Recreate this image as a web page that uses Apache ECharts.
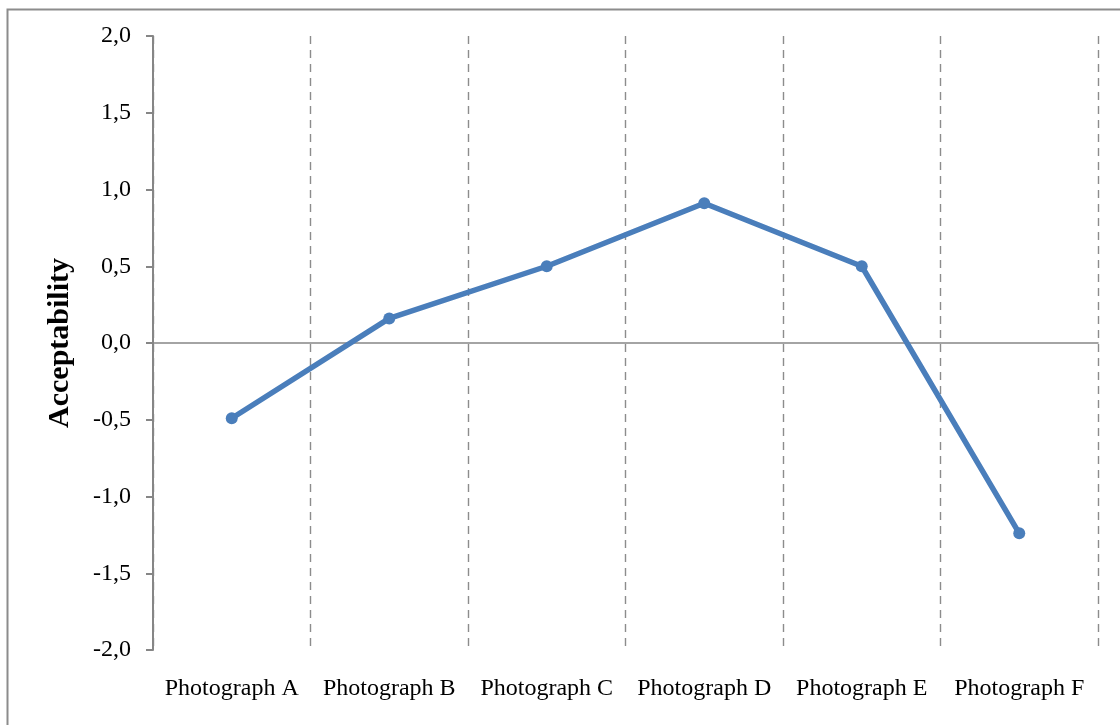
<!DOCTYPE html>
<html><head><meta charset="utf-8">
<script src="https://cdn.jsdelivr.net/npm/echarts@6/dist/echarts.min.js"></script>
<style>html,body{margin:0;padding:0;background:#fff}#c{width:1120px;height:725px}</style>
</head><body><div id="c"></div>
<script>
const categories = ['Photograph A','Photograph B','Photograph C','Photograph D','Photograph E','Photograph F'];
const acceptability = [-0.49, 0.16, 0.50, 0.91, 0.50, -1.24];
const yTicks = {min: -2, max: 2, interval: 0.5};

const chart = echarts.init(document.getElementById('c'), null, {renderer: 'canvas'});
const font = '"Liberation Serif","Times New Roman",serif';
chart.setOption({
  backgroundColor: '#fff',
  animation: false,
  graphic: [{type: 'rect', left: 5, top: 7, shape: {width: 1200, height: 800}, style: {fill: 'none', stroke: '#8c8c8c', lineWidth: 2}, z: -10}],
  grid: {left: 153, right: 22, top: 36, bottom: 75},
  xAxis: [{
    type: 'category', data: categories, boundaryGap: true, z: 0,
    axisLine: {show: false, onZero: false}, axisTick: {show: false},
    axisLabel: {fontFamily: font, fontSize: 24, color: '#000', margin: 27, interval: 0},
    splitLine: {show: true, lineStyle: {color: '#8c8c8c', type: [8, 6], width: 1.4}}
  }, {
    type: 'category', data: categories, position: 'bottom', boundaryGap: true, z: 1,
    axisLine: {show: true, onZero: true, lineStyle: {color: '#868686', width: 1.5}},
    axisTick: {show: false}, axisLabel: {show: false}, splitLine: {show: false}
  }],
  yAxis: {
    type: 'value', min: yTicks.min, max: yTicks.max, interval: yTicks.interval, z: 3,
    name: 'Acceptability', nameLocation: 'middle', nameGap: 78,
    nameTextStyle: {fontFamily: font, fontSize: 30, fontWeight: 'bold', color: '#000'},
    axisLine: {show: true, lineStyle: {color: '#868686', width: 2}},
    axisTick: {show: true, inside: false, length: 7, lineStyle: {color: '#868686', width: 2}},
    axisLabel: {fontFamily: font, fontSize: 24, color: '#000', margin: 22,
      formatter: v => v.toFixed(1).replace('.', ',')},
    splitLine: {show: false}
  },
  series: [{
    type: 'line', data: acceptability, xAxisIndex: 0,
    lineStyle: {color: '#4a7ebb', width: 5.5},
    itemStyle: {color: '#4a7ebb'},
    symbol: 'circle', symbolSize: 12, z: 5
  }]
});
</script></body></html>
